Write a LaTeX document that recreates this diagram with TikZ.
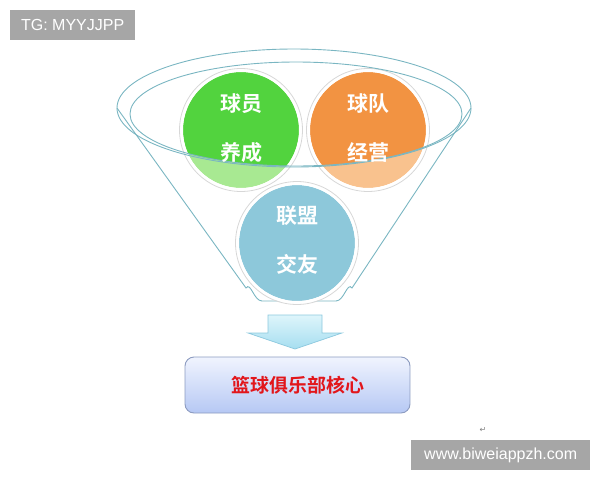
\documentclass[tikz,border=0pt]{standalone}
\usepackage{fontspec}
\setmainfont{Liberation Sans}
\newfontfamily\cjkb{Noto Sans CJK SC Bold}
\newfontfamily\djv{DejaVu Sans}
\usetikzlibrary{shapes.geometric}
\definecolor{funnelline}{RGB}{122,182,194}
\definecolor{gdark}{RGB}{82,211,62}
\definecolor{glight}{RGB}{168,233,146}
\definecolor{odark}{RGB}{242,147,66}
\definecolor{olight}{RGB}{249,194,142}
\definecolor{bcirc}{RGB}{141,200,218}
\definecolor{ringgray}{RGB}{215,215,215}
\definecolor{arrowtop}{RGB}{222,245,251}
\definecolor{arrowbot}{RGB}{166,222,240}
\definecolor{arrowline}{RGB}{140,200,222}
\definecolor{boxtop}{RGB}{240,244,254}
\definecolor{boxbot}{RGB}{182,200,244}
\definecolor{boxline}{RGB}{140,155,192}
\definecolor{redtxt}{RGB}{226,22,27}
\definecolor{wmgray}{RGB}{166,166,166}
\tikzset{
  circtext/.style={align=center, text=white, font=\cjkb\fontsize{21}{49}\selectfont, inner sep=0pt},
  ring/.style={draw=white, line width=3pt},
  ringout/.style={draw=ringgray, line width=0.8pt},
  funnel/.style={draw=funnelline, line width=0.9pt},
  wmbox/.style={fill=wmgray, text=white, font=\fontsize{16}{18}\selectfont, inner sep=0pt, minimum height=30pt, anchor=north west},
}
\begin{document}
\begin{tikzpicture}[x=1pt,y=-1pt]
\useasboundingbox (0,0) rectangle (600,480);
% cone
\coordinate (cl) at (117,108);
\coordinate (cr) at (471,108);
\draw[funnel] (cl) -- (246,288) to[out=55,in=180] (262,301) -- (336,301) to[out=0,in=125] (352,288) -- (cr);
% green circle
\coordinate (gc) at (241,130);
\fill[glight] (gc) circle[radius=58pt];
\begin{scope}
\clip (296,114) ellipse[x radius=166pt, y radius=52pt];
\fill[gdark] (gc) circle[radius=58pt];
\end{scope}
\draw[ring] (gc) circle[radius=59.5pt];
\draw[ringout] (gc) circle[radius=61.5pt];
% orange circle
\coordinate (oc) at (368,130);
\fill[olight] (oc) circle[radius=58pt];
\begin{scope}
\clip (296,114) ellipse[x radius=166pt, y radius=52pt];
\fill[odark] (oc) circle[radius=58pt];
\end{scope}
\draw[ring] (oc) circle[radius=59.5pt];
\draw[ringout] (oc) circle[radius=61.5pt];
% blue circle
\coordinate (bc) at (297,243);
\fill[bcirc] (bc) circle[radius=58pt];
\draw[ring] (bc) circle[radius=59.5pt];
\draw[ringout] (bc) circle[radius=61.5pt];
% funnel ellipses
\draw[funnel] (294,108) ellipse[x radius=177pt, y radius=59pt];
\draw[funnel] (296,114) ellipse[x radius=166pt, y radius=52pt];
% circle texts
\node[circtext] (gt) at (241,128) {球员\\养成};
\node[circtext] (ot) at (368,128) {球队\\经营};
\node[circtext] (bt) at (297,240) {联盟\\交友};
% arrow
\shade[top color=arrowtop, bottom color=arrowbot, draw=arrowline, line width=0.7pt]
  (268,315) -- (322,315) -- (322,333) -- (342,333) -- (295,349) -- (248,333) -- (268,333) -- cycle;
% box
\node[draw=boxline, line width=0.9pt, rounded corners=9pt, top color=boxtop, bottom color=boxbot,
      minimum width=225pt, minimum height=56pt, inner sep=0pt,
      text=redtxt, font=\cjkb\fontsize{19}{22}\selectfont] (core) at (297.5,385) {篮球俱乐部核心};
% watermarks
\node[wmbox, minimum width=125pt] (tg) at (10,10) {TG: MYYJJPP};
\node[wmbox, minimum width=179pt] (www) at (411,440) {www.biweiappzh.com};
\node[text=gray, font=\djv\fontsize{8}{9}\selectfont, inner sep=0pt] (ret) at (483,430) {↵};
\end{tikzpicture}
\end{document}
